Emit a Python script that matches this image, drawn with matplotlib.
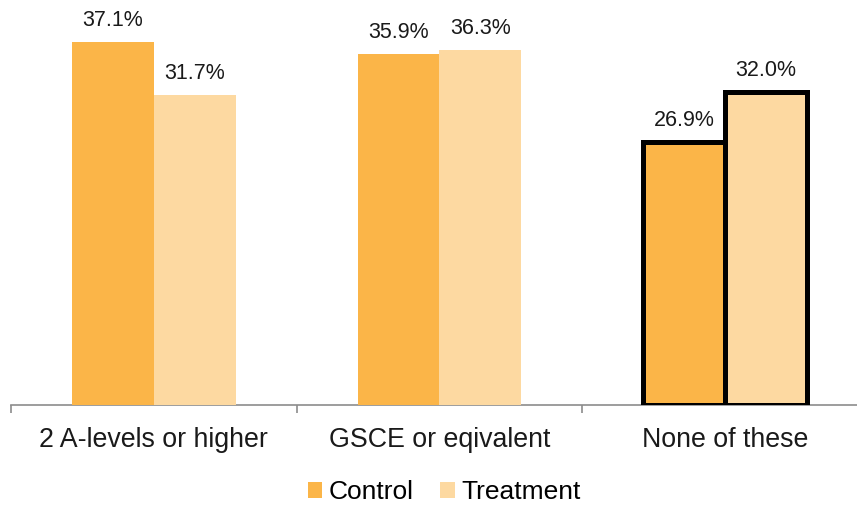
import matplotlib
matplotlib.use("Agg")
import matplotlib.pyplot as plt
from matplotlib.patches import Rectangle
import numpy as np

plt.rcParams['font.family'] = ['Liberation Sans', 'DejaVu Sans']

categories = ["2 A-levels or higher", "GSCE or eqivalent", "None of these"]
control = [37.1, 35.9, 26.9]
treatment = [31.7, 36.3, 32.0]
series_names = ["Control", "Treatment"]

control_color = "#FBB548"
treatment_color = "#FDD9A1"
axis_color = "#8C8C8C"

W, H = 857, 505
fig = plt.figure(figsize=(W / 100, H / 100), dpi=100)
# plot area: baseline at y=405 px, category slots 285.7 px wide starting at x=11
ax = fig.add_axes([11 / W, 100 / H, 857 / W, 405 / H])
ax.set_xlim(-0.5, 2.5)
ax.set_ylim(0, 41.4)

x = np.arange(len(categories))
bw = 0.287
edge_w = [0, 0, 3.6]
edge_c = ["none", "none", "black"]

bars_c = ax.bar(x - bw / 2, control, width=bw, color=control_color, zorder=3)
bars_t = ax.bar(x + bw / 2, treatment, width=bw, color=treatment_color, zorder=3)
for i in range(len(categories)):
    for b in (bars_c[i], bars_t[i]):
        b.set_linewidth(edge_w[i])
        b.set_edgecolor(edge_c[i])
        b.set_joinstyle("miter")

for bars, vals in ((bars_c, control), (bars_t, treatment)):
    for b, v in zip(bars, vals):
        ax.annotate(f"{v:.1f}%", (b.get_x() + b.get_width() / 2, v),
                    xytext=(0, 11.5), textcoords="offset points",
                    ha="center", va="baseline", fontsize=15.5, color="#1a1a1a")

for s in ("left", "right", "top"):
    ax.spines[s].set_visible(False)
ax.spines["bottom"].set_color(axis_color)
ax.spines["bottom"].set_linewidth(1.2)
ax.set_yticks([])

ax.set_xticks([-0.5, 0.5, 1.5, 2.5])
ax.set_xticklabels([])
ax.tick_params(axis="x", which="major", length=5.5, width=1.2, color=axis_color)
ax.set_xticks(x, minor=True)
ax.set_xticklabels(categories, minor=True, fontsize=19.3, color="#1a1a1a")
ax.tick_params(axis="x", which="minor", length=0, pad=15.5)

handles = [Rectangle((0, 0), 1, 1, facecolor=control_color),
           Rectangle((0, 0), 1, 1, facecolor=treatment_color)]
fig.legend(handles, series_names, loc="center", bbox_to_anchor=(444 / W, 1 - 492 / H),
           ncol=2, frameon=False, fontsize=19, handlelength=0.55, handleheight=0.55,
           handletextpad=0.25, columnspacing=1.0, borderpad=0, borderaxespad=0)

fig.savefig("out.png", dpi=100)
